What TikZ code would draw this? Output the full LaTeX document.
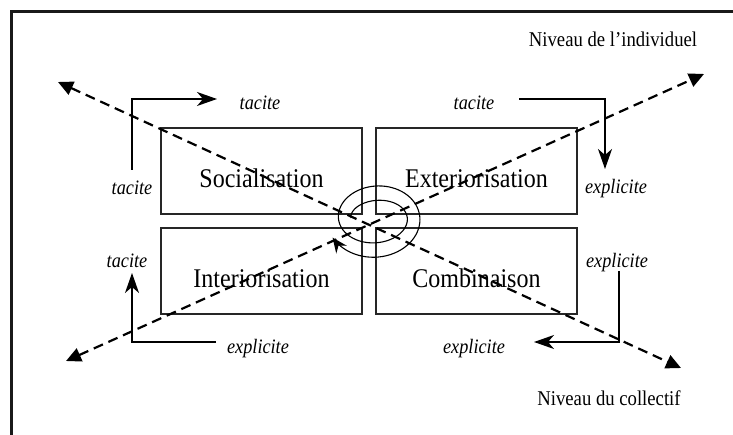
\documentclass[tikz,border=0pt]{standalone}
\usepackage{fontspec}
\setmainfont{Liberation Serif}
\usetikzlibrary{arrows.meta}
\newcommand\narrowtxt[1]{\scalebox{0.89}[1]{#1}}
\begin{document}
\begin{tikzpicture}[x=1pt,y=-1pt,
  box/.style={draw=black!85, line width=1.4pt, minimum width=201pt, minimum height=86pt, inner sep=0pt},
  maintxt/.style={anchor=base, inner sep=0pt, font=\fontsize{27}{30}\selectfont},
  lbl/.style={anchor=base, inner sep=0pt, font=\fontsize{20.5}{24}\selectfont\itshape},
  lvl/.style={anchor=base, inner sep=0pt, font=\fontsize{21}{24}\selectfont},
  corner/.style={line width=1.3pt, -{Stealth[length=20pt,width=14pt,inset=6pt]}},
  diag/.style={line width=2.2pt, dash pattern=on 10pt off 6pt,
    {Triangle[length=15pt,width=14pt]}-{Triangle[length=15pt,width=14pt]}},
  spiral/.style={line width=1.1pt, -{Stealth[length=15pt,width=13pt,inset=5pt]}},
]
\useasboundingbox (0,0) rectangle (733,435);
% frame
\draw[line width=2.5pt, black!90] (11.5,435) -- (11.5,11.5) -- (733,11.5);

% boxes
\node[box] (soc)  at (261.5,171) {};
\node[box] (ext)  at (476.5,171) {};
\node[box] (inte) at (261.5,271) {};
\node[box] (comb) at (476.5,271) {};

% diagonal dashed arrows
\coordinate (tl) at (58,82);
\coordinate (br) at (681,368);
\coordinate (bl) at (66,361);
\coordinate (tr) at (704,74);
\draw[diag] (tl) -- (br);
\draw[diag] (bl) -- (tr);

% box texts
\node[maintxt] (tsoc)  at (261.5,188) {\narrowtxt{Socialisation}};
\node[maintxt] (text)  at (476.5,188) {\narrowtxt{Exteriorisation}};
\node[maintxt] (tint)  at (261.5,288) {\narrowtxt{Interiorisation}};
\node[maintxt] (tcomb) at (476.5,288) {\narrowtxt{Combinaison}};

% spiral
\draw[spiral] plot[domain=0:692, samples=140, smooth, variable=\t]
  ({376+(25+0.035*\t)*cos(180-\t)}, {218-(14+0.04*\t)*sin(180-\t)});

% corner arrows
\coordinate (a1s) at (132,170); \coordinate (a1e) at (217,99);
\coordinate (a2s) at (519,99);  \coordinate (a2e) at (605,169);
\coordinate (a3s) at (216,342); \coordinate (a3e) at (132,273);
\coordinate (a4s) at (619,271); \coordinate (a4e) at (534,342);
\draw[corner] (a1s) |- (a1e);
\draw[corner] (a2s) -| (a2e);
\draw[corner] (a3s) -| (a3e);
\draw[corner] (a4s) |- (a4e);

% labels
\node[lbl] (l1) at (260,110) {\narrowtxt{tacite}};
\node[lbl] (l2) at (132,195) {\narrowtxt{tacite}};
\node[lbl] (l3) at (474,110) {\narrowtxt{tacite}};
\node[lbl] (l4) at (616,194) {\narrowtxt{explicite}};
\node[lbl] (l5) at (127,268) {\narrowtxt{tacite}};
\node[lbl] (l6) at (258,353) {\narrowtxt{explicite}};
\node[lbl] (l7) at (617,268) {\narrowtxt{explicite}};
\node[lbl] (l8) at (474,353) {\narrowtxt{explicite}};

\node[lvl] (nind) at (613,47) {\narrowtxt{Niveau de l’individuel}};
\node[lvl] (ncol) at (609,405) {\narrowtxt{Niveau du collectif}};
\end{tikzpicture}
\end{document}
